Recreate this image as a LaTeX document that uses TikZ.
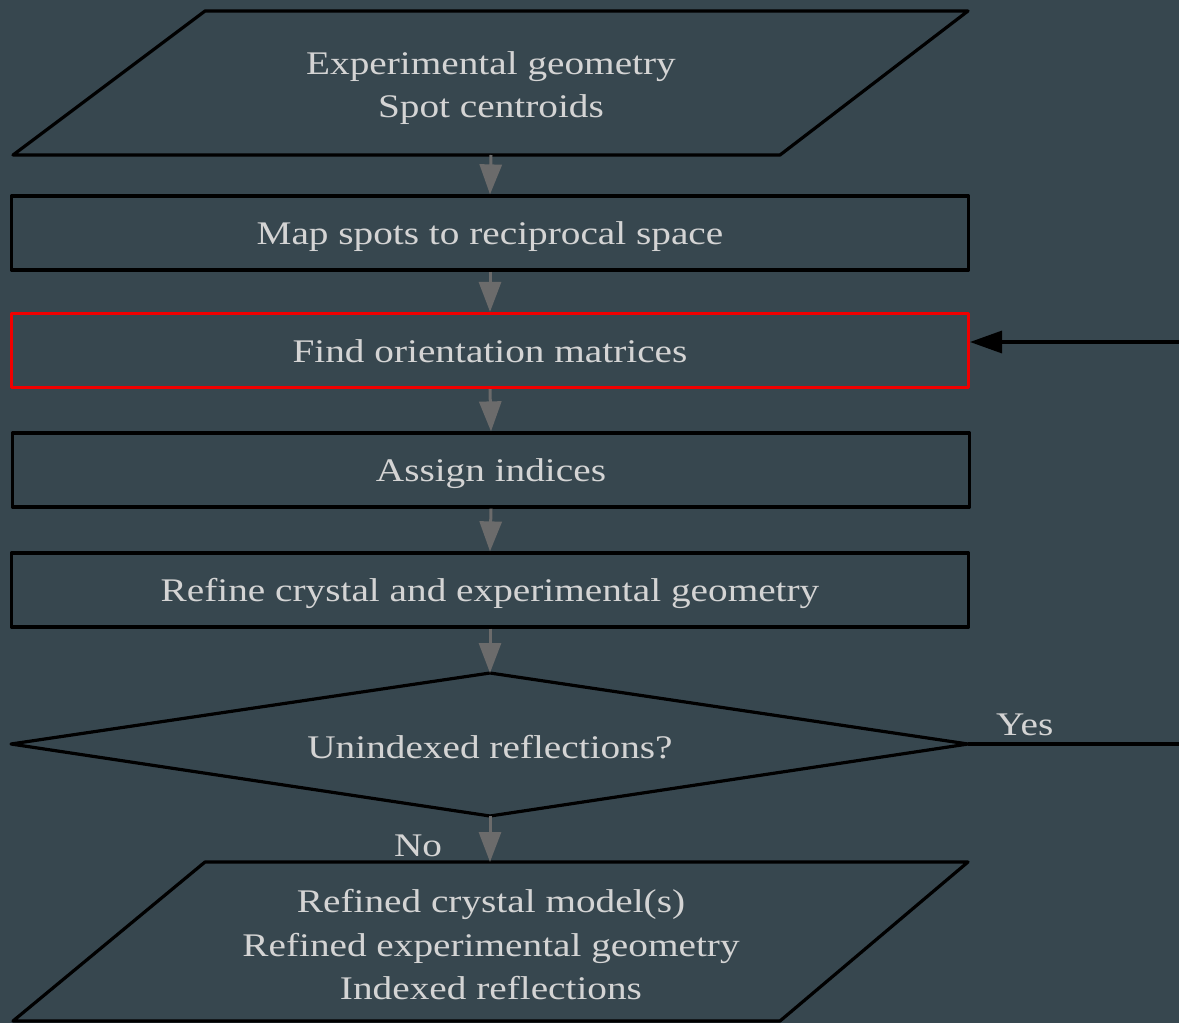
\documentclass[tikz,border=0pt]{standalone}
\usepackage{fontspec}
\setmainfont{Liberation Serif}[FakeStretch=1.19]
\usetikzlibrary{arrows.meta}
\definecolor{bg}{HTML}{37474F}
\definecolor{txt}{HTML}{D4D4D4}
\definecolor{flow}{HTML}{6B6B6B}
\definecolor{hl}{HTML}{F00000}
\begin{document}
\begin{tikzpicture}[x=1pt,y=-1pt,
  shapeline/.style={draw=black,line width=3.2pt,line join=round},
  lbl/.style={font=\fontsize{33}{43.5}\selectfont,text=txt,align=center,inner sep=0pt},
  box/.style={shapeline,lbl,rectangle,minimum width=957pt,minimum height=74pt,text height=26pt,text depth=3pt},
  flowarrow/.style={draw=flow,line width=3pt,-{Triangle[width=22pt,length=30pt]}},
  loop/.style={draw=black,line width=3.2pt,-{Triangle[width=22pt,length=32pt]}}]
\fill[bg] (0,0) rectangle (1179,1023);
\clip (0,0) rectangle (1179,1023);
% input parallelogram
\draw[shapeline] (205,11) -- (968,11) -- (780,155) -- (13,155) -- cycle;
\node[lbl] (in) at (491,88) {Experimental geometry\\Spot centroids};
\coordinate (inB) at (491,155);
% boxes
\node[box] (map) at (490,233) {Map spots to reciprocal space};
\node[box,draw=hl] (find) at (490,350.5) {Find orientation matrices};
\node[box] (assign) at (491,470) {Assign indices};
\node[box] (refine) at (490,590) {Refine crystal and experimental geometry};
% decision
\draw[shapeline] (11,744) -- (490,673) -- (968,744) -- (490,816) -- cycle;
\node[lbl] (dec) at (490,747) {Unindexed reflections?};
\coordinate (dT) at (490,673);
\coordinate (dB) at (490,816);
\coordinate (dR) at (968,744);
% output parallelogram
\draw[shapeline] (205,862) -- (968,862) -- (780,1021) -- (13,1021) -- cycle;
\node[lbl] (out) at (491,945) {Refined crystal model(s)\\Refined experimental geometry\\Indexed reflections};
\coordinate (outT) at (490,862);
% flow arrows
\draw[flowarrow] (inB) -- (map.north);
\draw[flowarrow] (map.south) -- (find.north);
\draw[flowarrow] (find.south) -- (assign.north);
\draw[flowarrow] (assign.south) -- (refine.north);
\draw[flowarrow] (refine.south) -- (dT);
\draw[flowarrow] (dB) -- (outT);
% loop back
\coordinate (findIn) at (970,342);
\draw[loop] (dR) -- (1200,744) -- (1200,342) -- (findIn);
\node[lbl,anchor=west] (yes) at (996,725) {Yes};
\node[lbl] (no) at (418,846) {No};
\end{tikzpicture}
\end{document}
